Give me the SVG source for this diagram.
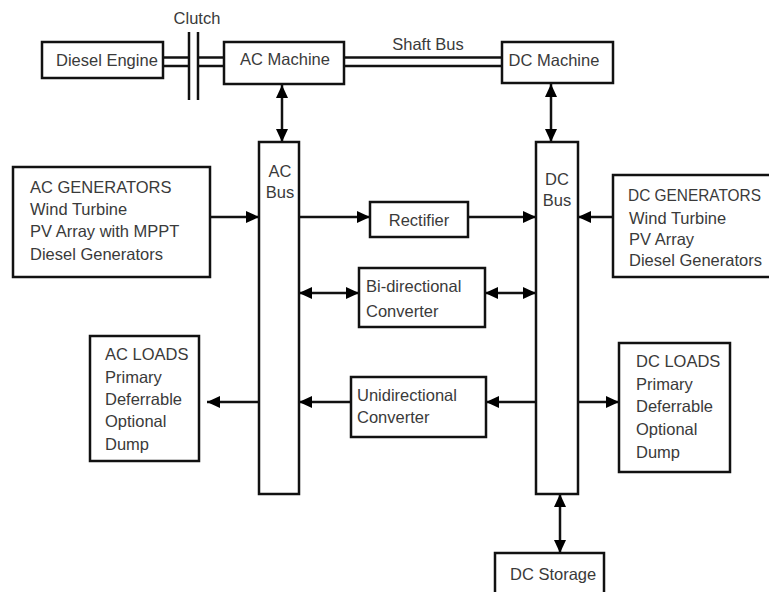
<svg xmlns="http://www.w3.org/2000/svg" width="769" height="592" viewBox="0 0 769 592">
<defs>
<marker id="ah" markerUnits="userSpaceOnUse" markerWidth="14" markerHeight="12" refX="13" refY="6" orient="auto-start-reverse" viewBox="0 0 14 12">
<path d="M0,0 L13,6 L0,12 z" fill="#000"/>
</marker>
<style>
.b{fill:#fff;stroke:#111;stroke-width:2.5}
.t{font-family:"Liberation Sans",Arial,sans-serif;font-size:16.5px;fill:#3a3a3a}
.c{text-anchor:middle}
.l{stroke:#111;stroke-width:2.5;fill:none}
.a{stroke:#111;stroke-width:2.5;fill:none;marker-end:url(#ah)}
.d{stroke:#111;stroke-width:2.5;fill:none;marker-start:url(#ah);marker-end:url(#ah)}
</style>
</defs>
<rect width="769" height="592" fill="#fff"/>
<g id="connectors">
<line class="l" x1="163" y1="57.5" x2="189" y2="57.5"/>
<line class="l" x1="163" y1="66" x2="189" y2="66"/>
<line class="l" x1="198" y1="57.5" x2="224" y2="57.5"/>
<line class="l" x1="198" y1="66" x2="224" y2="66"/>
<line class="l" x1="344" y1="57.5" x2="502" y2="57.5"/>
<line class="l" x1="344" y1="66" x2="502" y2="66"/>
<line class="l" x1="189" y1="32" x2="189" y2="100"/>
<line class="l" x1="198" y1="32" x2="198" y2="100"/>
<line class="d" x1="282" y1="85" x2="282" y2="142"/>
<line class="d" x1="551" y1="84" x2="551" y2="142"/>
<line class="d" x1="560" y1="494" x2="560" y2="553"/>
<line class="a" x1="210" y1="217" x2="259" y2="217"/>
<line class="a" x1="299" y1="217" x2="370" y2="217"/>
<line class="a" x1="468" y1="217" x2="536" y2="217"/>
<line class="a" x1="613" y1="217" x2="578" y2="217"/>
<line class="d" x1="299" y1="293" x2="359" y2="293"/>
<line class="d" x1="485" y1="293" x2="536" y2="293"/>
<line class="a" x1="259" y1="402" x2="207" y2="402"/>
<line class="a" x1="351" y1="402" x2="299" y2="402"/>
<line class="a" x1="536" y1="402" x2="486" y2="402"/>
<line class="a" x1="578" y1="402" x2="619" y2="402"/>
</g>
<text class="t c" x="197" y="24">Clutch</text>
<text class="t c" x="428" y="50">Shaft Bus</text>
<g id="diesel-engine">
<rect class="b" x="42" y="42" width="121" height="36"/>
<text class="t" x="56" y="66">Diesel Engine</text>
</g>
<g id="ac-machine">
<rect class="b" x="224" y="42" width="120" height="42"/>
<text class="t c" x="285" y="65">AC Machine</text>
</g>
<g id="dc-machine">
<rect class="b" x="502" y="42" width="111" height="41"/>
<text class="t c" x="554" y="66">DC Machine</text>
</g>
<g id="ac-bus">
<rect class="b" x="259" y="142" width="40" height="352"/>
<text class="t c" x="280" y="177">AC</text>
<text class="t c" x="280" y="198">Bus</text>
</g>
<g id="dc-bus">
<rect class="b" x="536" y="142" width="42" height="352"/>
<text class="t c" x="557" y="185">DC</text>
<text class="t c" x="557" y="206">Bus</text>
</g>
<g id="ac-generators">
<rect class="b" x="13" y="167" width="197" height="110"/>
<text class="t" x="30" y="193">AC GENERATORS</text>
<text class="t" x="30" y="215">Wind Turbine</text>
<text class="t" x="30" y="237">PV Array with MPPT</text>
<text class="t" x="30" y="260">Diesel Generators</text>
</g>
<g id="dc-generators">
<rect class="b" x="613" y="175" width="170" height="102"/>
<text class="t" x="628" y="201" textLength="133" lengthAdjust="spacingAndGlyphs">DC GENERATORS</text>
<text class="t" x="629" y="224">Wind Turbine</text>
<text class="t" x="629" y="245">PV Array</text>
<text class="t" x="629" y="266">Diesel Generators</text>
</g>
<g id="rectifier">
<rect class="b" x="370" y="202" width="98" height="35"/>
<text class="t c" x="419" y="226">Rectifier</text>
</g>
<g id="bidirectional-converter">
<rect class="b" x="359" y="268" width="126" height="59"/>
<text class="t" x="366" y="292">Bi-directional</text>
<text class="t" x="366" y="317">Converter</text>
</g>
<g id="unidirectional-converter">
<rect class="b" x="351" y="377" width="135" height="60"/>
<text class="t" x="357" y="401">Unidirectional</text>
<text class="t" x="357" y="423">Converter</text>
</g>
<g id="ac-loads">
<rect class="b" x="90" y="336" width="109" height="125"/>
<text class="t" x="105" y="360">AC LOADS</text>
<text class="t" x="105" y="383">Primary</text>
<text class="t" x="105" y="405">Deferrable</text>
<text class="t" x="105" y="427">Optional</text>
<text class="t" x="105" y="450">Dump</text>
</g>
<g id="dc-loads">
<rect class="b" x="619" y="343" width="111" height="129"/>
<text class="t" x="636" y="367">DC LOADS</text>
<text class="t" x="636" y="390">Primary</text>
<text class="t" x="636" y="412">Deferrable</text>
<text class="t" x="636" y="435">Optional</text>
<text class="t" x="636" y="458">Dump</text>
</g>
<g id="dc-storage">
<rect class="b" x="495" y="553" width="109" height="50"/>
<text class="t" x="510" y="580">DC Storage</text>
</g>
</svg>
